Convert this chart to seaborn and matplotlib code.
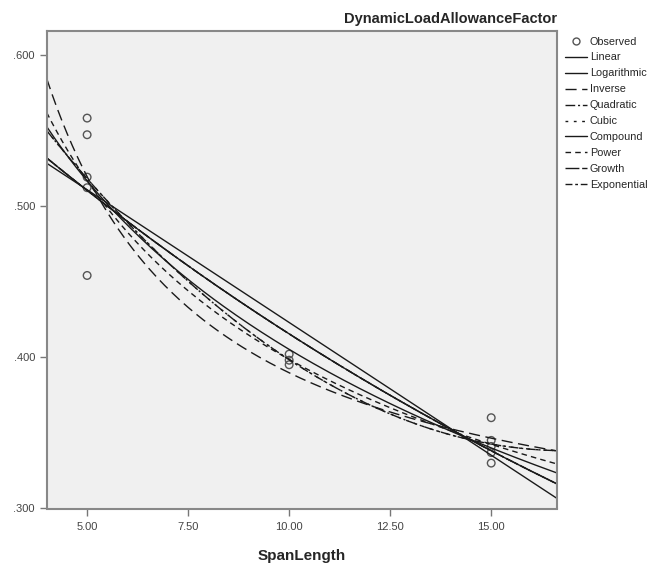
import numpy as np
import pandas as pd
import seaborn as sns
import matplotlib.pyplot as plt
from matplotlib.lines import Line2D
from matplotlib.ticker import FuncFormatter

# observed points (DLA factor, shown as .300-.600)
span_obs = [5, 5, 5, 5, 5, 10, 10, 10, 15, 15, 15, 15, 15]
dla_obs = [0.558, 0.547, 0.519, 0.512, 0.454,
           0.402, 0.398, 0.395,
           0.360, 0.345, 0.341, 0.337, 0.330]

models = ["Linear", "Logarithmic", "Inverse", "Quadratic", "Cubic",
          "Compound", "Power", "Growth", "Exponential"]
dash_styles = {
    "Linear": "", "Logarithmic": "", "Inverse": (8, 4),
    "Quadratic": (7, 2, 1.5, 2), "Cubic": (2, 4), "Compound": "",
    "Power": (4, 3), "Growth": (10, 2), "Exponential": (5, 2, 2, 2),
}

sns.set_theme(style="white")
plt.rcParams["font.family"] = ["Liberation Sans", "DejaVu Sans"]

x = np.array(span_obs, dtype=float)
y = np.array(dla_obs)
grid = np.linspace(4.0, 16.62, 200)


def lsq(cols, target):
    A = np.column_stack(cols)
    coef, *_ = np.linalg.lstsq(A, target, rcond=None)
    return coef


# curve estimation, same model set as the SPSS output
fits = {}
c = lsq([np.ones_like(x), x], y)
fits["Linear"] = c[0] + c[1] * grid
c = lsq([np.ones_like(x), np.log(x)], y)
fits["Logarithmic"] = c[0] + c[1] * np.log(grid)
c = lsq([np.ones_like(x), 1 / x], y)
fits["Inverse"] = c[0] + c[1] / grid
c = lsq([np.ones_like(x), x, x ** 2], y)
fits["Quadratic"] = c[0] + c[1] * grid + c[2] * grid ** 2
# only 3 distinct spans: the x^3 term is collinear and gets dropped (as SPSS does)
cols = [np.ones_like(x), x, x ** 2, x ** 3]
if np.linalg.matrix_rank(np.column_stack(cols)) < 4:
    cols = cols[:3]
c = lsq(cols, y)
fits["Cubic"] = sum(ci * grid ** i for i, ci in enumerate(c))
c = lsq([np.ones_like(x), x], np.log(y))
expo = np.exp(c[0] + c[1] * grid)
fits["Compound"] = expo
fits["Growth"] = expo
fits["Exponential"] = expo
c = lsq([np.ones_like(x), np.log(x)], np.log(y))
fits["Power"] = np.exp(c[0]) * grid ** c[1]

curves = pd.concat([pd.DataFrame({"span": grid, "dla": fits[m], "model": m}) for m in models])
obs = pd.DataFrame({"span": span_obs, "dla": dla_obs})

fig = plt.figure(figsize=(6.58, 5.65), dpi=100)
ax = fig.add_axes([0.071, 0.100, 0.775, 0.845])
ax.set_facecolor("#f0f0f0")

sns.lineplot(data=curves, x="span", y="dla", style="model", style_order=models,
             dashes=dash_styles, color="#1a1a1a", linewidth=1.0, legend=False,
             sort=False, ax=ax)
sns.scatterplot(data=obs, x="span", y="dla", marker="o", s=30,
                facecolor="none", edgecolor="#555555", linewidth=1.0, ax=ax)

ax.set_xlim(4.0, 16.62)
ax.set_ylim(0.3, 0.6155)
ax.set_xticks([5, 7.5, 10, 12.5, 15])
ax.set_yticks([0.3, 0.4, 0.5, 0.6])
ax.xaxis.set_major_formatter(FuncFormatter(lambda v, p: f"{v:.2f}"))
ax.yaxis.set_major_formatter(FuncFormatter(lambda v, p: f"{v:.3f}".lstrip("0")))
ax.tick_params(axis="both", which="both", direction="out", length=5, width=1,
               color="#777777", labelsize=8, labelcolor="#444444",
               bottom=True, left=True)
ax.tick_params(axis="x", pad=5)
for s in ax.spines.values():
    s.set_color("#888888")
    s.set_linewidth(1.5)

ax.set_xlabel("SpanLength", fontsize=11, fontweight="bold", labelpad=12)
ax.set_ylabel("")
ax.set_title("DynamicLoadAllowanceFactor", fontsize=10.5, fontweight="bold",
             loc="right", pad=6)

handles = [Line2D([], [], linestyle="none", marker="o", markersize=5,
                  markerfacecolor="none", markeredgecolor="#555555")]
for m in models:
    h = Line2D([], [], color="#1a1a1a", linewidth=1.0)
    if dash_styles[m]:
        h.set_dashes(dash_styles[m])
    handles.append(h)
fig.legend(handles, ["Observed"] + models, loc="upper left",
           bbox_to_anchor=(0.852, 0.943), frameon=False, fontsize=7.8,
           handlelength=2.0, handletextpad=0.3, labelspacing=0.55,
           borderaxespad=0)

fig.savefig("out.png", dpi=100)
